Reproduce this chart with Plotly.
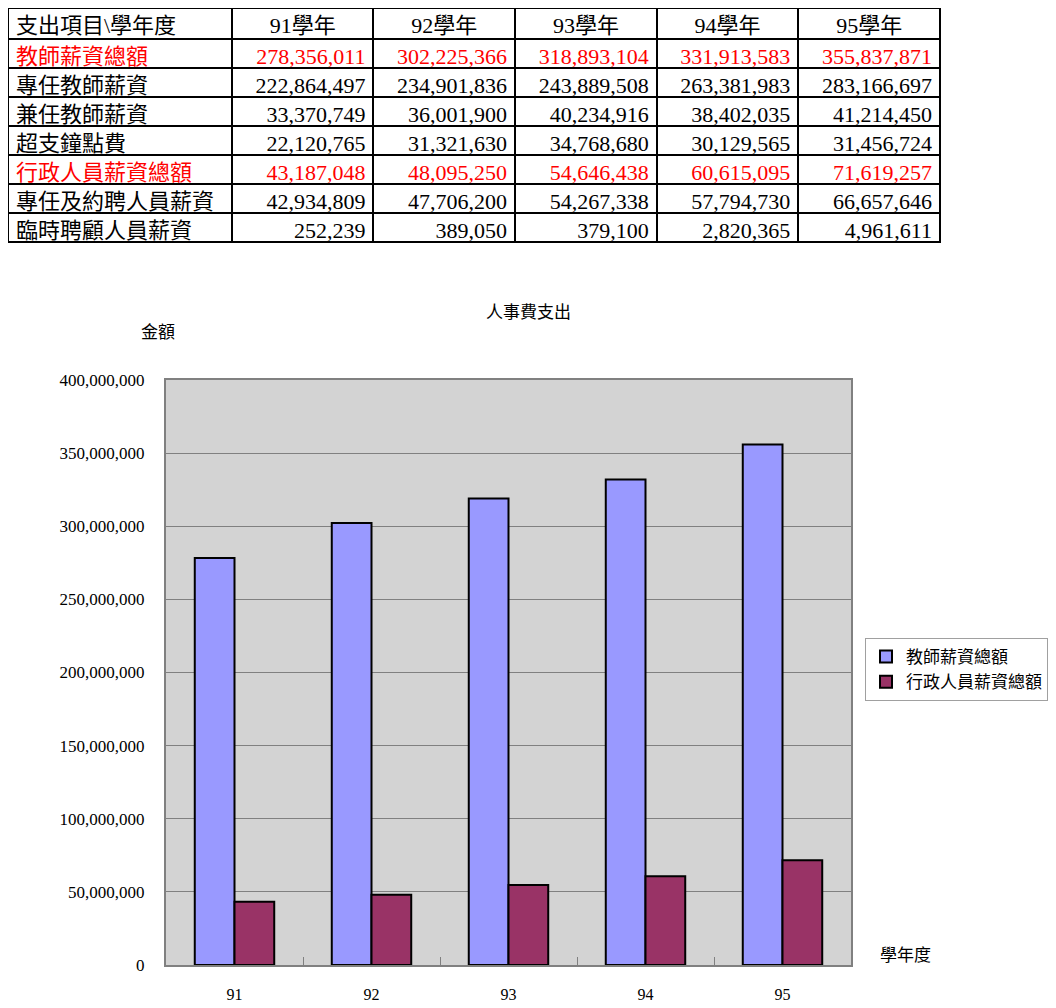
import plotly.graph_objects as go

# 資料
years = ['91', '92', '93', '94', '95']
header = ['支出項目\\學年度'] + [y + '學年' for y in years]
items = ['教師薪資總額', '專任教師薪資', '兼任教師薪資', '超支鐘點費',
         '行政人員薪資總額', '專任及約聘人員薪資', '臨時聘顧人員薪資']

teacher_total = [278356011, 302225366, 318893104, 331913583, 355837871]
teacher_full = [222864497, 234901836, 243889508, 263381983, 283166697]
teacher_part = [33370749, 36001900, 40234916, 38402035, 41214450]
overtime = [22120765, 31321630, 34768680, 30129565, 31456724]
admin_total = [43187048, 48095250, 54646438, 60615095, 71619257]
admin_full = [42934809, 47706200, 54267338, 57794730, 66657646]
admin_temp = [252239, 389050, 379100, 2820365, 4961611]

rows = [teacher_total, teacher_full, teacher_part, overtime,
        admin_total, admin_full, admin_temp]
red_rows = [0, 4]

# 頁面 body 預設有 8px 邊距, 所以圖本身小 8px, 座標也減 8
OFF = 8
W, H = 1056 - OFF, 1008 - OFF
font_fam = 'Liberation Serif, Noto Sans CJK TC'


def px(x):
    return (x - OFF) / W


def py(y):
    return 1 - (y - OFF) / H


# 表格欄位 (每欄一個 list)
cols = [items]
for j in range(len(years)):
    cols.append(['{:,}'.format(r[j]) for r in rows])

row_colors = ['red' if i in red_rows else 'black' for i in range(len(items))]

fig = go.Figure()

fig.add_trace(go.Table(
    domain=dict(x=[px(OFF), px(940)], y=[py(252), py(OFF)]),
    columnwidth=[226] + [143] * 5,
    header=dict(values=header,
                align=['left'] + ['center'] * 5,
                height=31,
                line=dict(color='black', width=2),
                fill_color='white',
                font=dict(family=font_fam, size=22, color='black')),
    cells=dict(values=cols,
               align=['left'] + ['right'] * 5,
               height=29,
               line=dict(color='black', width=2),
               fill_color='white',
               font=dict(family=font_fam, size=22,
                         color=[row_colors] * 6)),
))

fig.add_trace(go.Bar(x=years, y=teacher_total, name='教師薪資總額',
                     marker=dict(color='#9999FF', line=dict(color='black', width=2))))
fig.add_trace(go.Bar(x=years, y=admin_total, name='行政人員薪資總額',
                     marker=dict(color='#993366', line=dict(color='black', width=2))))

fig.update_layout(
    width=W, height=H,
    margin=dict(l=0, r=0, t=0, b=0, autoexpand=False),
    paper_bgcolor='white',
    plot_bgcolor='#D3D3D3',
    font=dict(family=font_fam, size=16, color='black'),
    barmode='group',
    bargap=0.42,
    bargroupgap=0,
    showlegend=True,
    legend=dict(x=px(865), y=py(638), xanchor='left', yanchor='top',
                bordercolor='#A0A0A0', borderwidth=1,
                font=dict(size=17), tracegroupgap=4),
    xaxis=dict(domain=[px(166), px(851)], type='category',
               showline=True, linecolor='#808080', linewidth=2, mirror=True,
               ticks='inside', tickson='boundaries', ticklen=8, tickcolor='#808080',
               ticklabelstandoff=14, tickfont=dict(size=16)),
    yaxis=dict(domain=[py(965), py(380)], range=[0, 400000000],
               dtick=50000000, tickformat=',d',
               showline=True, linecolor='#808080', linewidth=2, mirror=True,
               gridcolor='#808080', gridwidth=1, zeroline=False,
               ticks='', ticklabelstandoff=16, tickfont=dict(size=17)),
    annotations=[
        dict(text='人事費支出', x=px(528), y=py(312), xref='paper', yref='paper',
             xanchor='center', yanchor='middle', showarrow=False, font=dict(size=17)),
        dict(text='金額', x=px(158), y=py(332), xref='paper', yref='paper',
             xanchor='center', yanchor='middle', showarrow=False, font=dict(size=17)),
        dict(text='學年度', x=px(905), y=py(955), xref='paper', yref='paper',
             xanchor='center', yanchor='middle', showarrow=False, font=dict(size=17)),
    ],
)

fig.write_html('out.html')
